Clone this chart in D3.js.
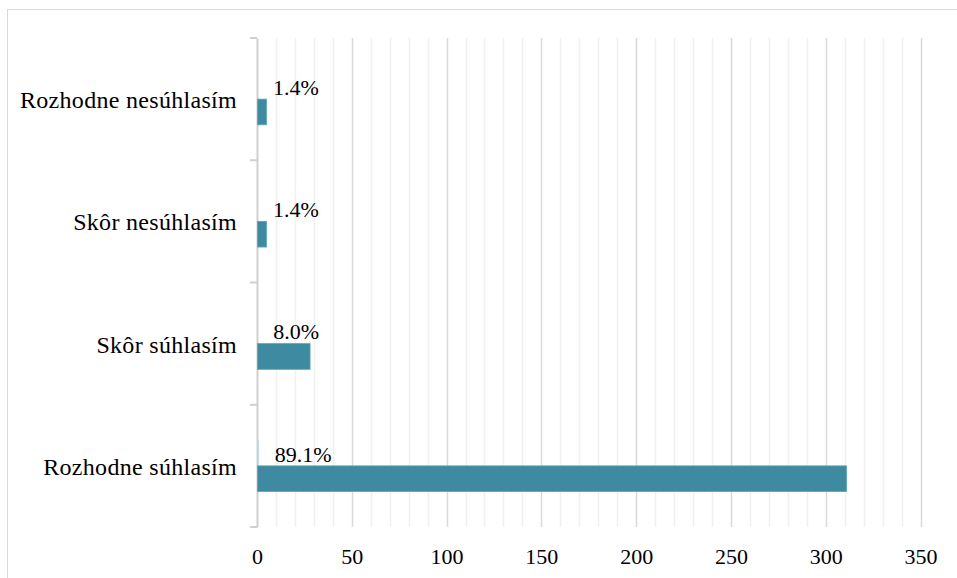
<!DOCTYPE html>
<html>
<head>
<meta charset="utf-8">
<script src="https://cdn.jsdelivr.net/npm/d3@7"></script>
<style>
body{margin:0;background:#fff;}
svg{display:block;}
</style>
</head>
<body>
<svg id="chart" width="957" height="578"></svg>
<script>
const categories = ["Rozhodne nesúhlasím","Skôr nesúhlasím","Skôr súhlasím","Rozhodne súhlasím"];
const counts = [5, 5, 28, 311];
const shares = [0.014, 0.014, 0.080, 0.891];
const shareLabels = ["1.4%","1.4%","8.0%","89.1%"];
const xTicks = [0,50,100,150,200,250,300,350];

const FONT = "'Liberation Serif', 'Times New Roman', Tinos, 'DejaVu Serif', serif";
const FS = "22px";

const svg = d3.select("#chart");
const W = 957, H = 578;
const m = {left:257, right:36, top:38, bottom:51};

svg.append("rect").attr("x",7.5).attr("y",9.5).attr("width",W).attr("height",H)
  .attr("fill","none").attr("stroke","#d9d9d9").attr("stroke-width",1);

const x = d3.scaleLinear().domain([0,350]).range([m.left, 920.5]);
const y = d3.scaleBand().domain(categories).range([m.top, H-m.bottom]);

// minor gridlines
const minor = d3.range(10,351,10).filter(v=>v%50!==0);
svg.append("g").selectAll("line").data(minor).join("line")
  .attr("x1",d=>Math.round(x(d))+0.5).attr("x2",d=>Math.round(x(d))+0.5)
  .attr("y1",m.top).attr("y2",H-m.bottom)
  .attr("stroke","#f0f0f0").attr("stroke-width",1.5);
// major gridlines
svg.append("g").selectAll("line").data(xTicks.filter(v=>v>0)).join("line")
  .attr("x1",d=>Math.round(x(d))+0.5).attr("x2",d=>Math.round(x(d))+0.5)
  .attr("y1",m.top).attr("y2",H-m.bottom)
  .attr("stroke","#d9d9d9").attr("stroke-width",1.5);

// y axis line and ticks
const yAxis = d3.axisLeft(y).tickSize(0).tickFormat("");
const ya = svg.append("g").attr("transform",`translate(${m.left},0)`).call(yAxis);
ya.select(".domain").attr("stroke","#d0d0d0").attr("stroke-width",2);
const bounds = categories.map(c=>y(c)).concat([H-m.bottom]);
svg.append("g").selectAll("line").data(bounds).join("line")
  .attr("x1",m.left-7).attr("x2",m.left).attr("y1",d=>d).attr("y2",d=>d)
  .attr("stroke","#d0d0d0").attr("stroke-width",2);

// category labels
svg.append("g").selectAll("text").data(categories).join("text")
  .attr("x",237).attr("y",d=>y(d)+y.bandwidth()/2+1)
  .attr("text-anchor","end").attr("dominant-baseline","central")
  .style("font-family",FONT).style("font-size","24px").style("letter-spacing","0.3px")
  .style("fill","#000").text(d=>d);

const bh = y.bandwidth()*0.21;
// light series (shares)
svg.append("g").selectAll("rect").data(shares).join("rect")
  .attr("x",x(0)).attr("y",(d,i)=>y(categories[i])+y.bandwidth()/2-bh)
  .attr("width",d=>Math.max(0,x(d)-x(0))).attr("height",bh)
  .attr("fill","#a9dde8");
// dark series (counts)
svg.append("g").selectAll("rect").data(counts).join("rect")
  .attr("x",x(0)+0.5).attr("y",(d,i)=>y(categories[i])+y.bandwidth()/2)
  .attr("width",d=>x(d)-x(0)-0.5).attr("height",bh)
  .attr("fill","#3e8ba1").attr("stroke","#5aa3b6").attr("stroke-width",0.8);

// data labels
svg.append("g").selectAll("text").data(shareLabels).join("text")
  .attr("x",(d,i)=>x(shares[i])+16).attr("y",(d,i)=>y(categories[i])+y.bandwidth()/2-bh/2+1)
  .attr("dominant-baseline","central")
  .style("font-family",FONT).style("font-size",FS).style("fill","#000").text(d=>d);

// x axis labels
const xa = svg.append("g").attr("transform",`translate(0,${H-m.bottom})`)
  .call(d3.axisBottom(x).tickValues(xTicks).tickSize(0).tickPadding(21));
xa.select(".domain").remove();
xa.selectAll("text").style("font-family",FONT).style("font-size",FS).style("fill","#000");
</script>
</body>
</html>
